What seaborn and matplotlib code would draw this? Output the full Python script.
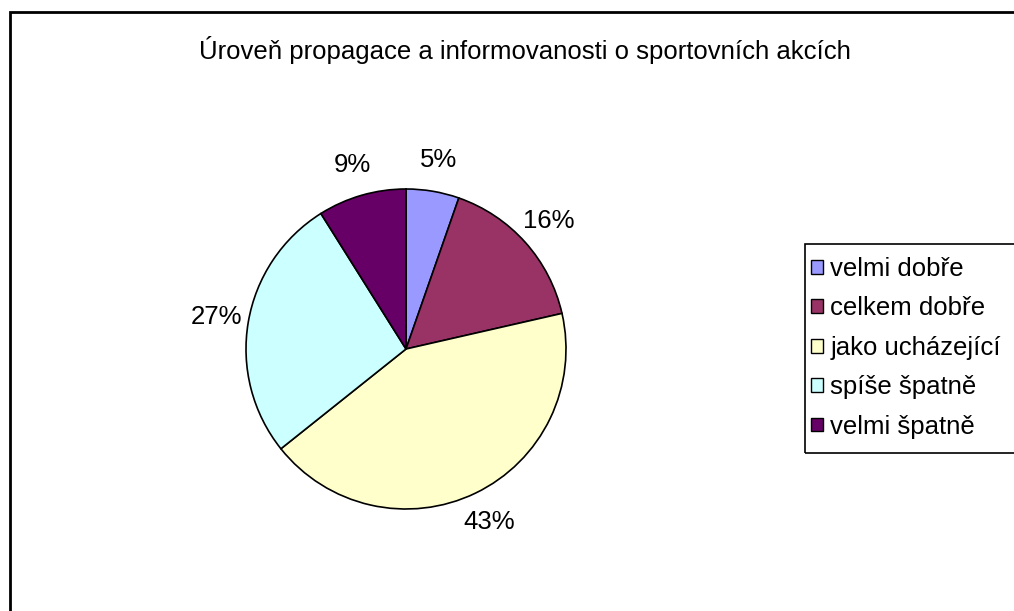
import matplotlib
matplotlib.use("Agg")
import matplotlib.pyplot as plt
from matplotlib.patches import Rectangle, Patch
import seaborn as sns

kategorie = ["velmi dobře", "celkem dobře", "jako ucházející", "spíše špatně", "velmi špatně"]
pocty = [6, 18, 48, 30, 10]
barvy = ["#9999FF", "#993366", "#FFFFCC", "#CCFFFF", "#660066"]
nazev = "Úroveň propagace a informovanosti o sportovních akcích"

W, H = 1014, 611
FS = 18.5


def main():
	sns.set_theme(style="white")
	plt.rcParams["font.family"] = ["Liberation Sans", "DejaVu Sans"]
	plt.rcParams["text.color"] = "black"

	fig = plt.figure(figsize=(W / 100, H / 100), dpi=100)
	fig.patch.set_facecolor("white")

	# vnejsi ramecek grafu
	fig.patches.append(Rectangle((10 / W, -0.05), 1.1, 1 - 12 / H + 0.05,
		transform=fig.transFigure, fill=False, edgecolor="black", linewidth=2))

	fig.text(525 / W, 1 - 50 / H, nazev, ha="center", va="center", fontsize=FS)

	cx, cy, r = 406, 349, 160
	ax = fig.add_axes([(cx - r) / W, (H - cy - r) / H, 2 * r / W, 2 * r / H])
	ax.pie(pocty, colors=barvy, startangle=90, counterclock=False,
		autopct="%1.0f%%", pctdistance=1.2,
		wedgeprops=dict(edgecolor="black", linewidth=1.2),
		textprops=dict(fontsize=FS, color="black"))
	ax.set_xlim(-1, 1)
	ax.set_ylim(-1, 1)
	ax.set_aspect("equal")
	ax.axis("off")

	# ramecek legendy
	fig.patches.append(Rectangle((805 / W, 1 - 453 / H), 0.3, 209 / H,
		transform=fig.transFigure, fill=False, edgecolor="black", linewidth=1.2))

	handles = [Patch(facecolor=c, edgecolor="black", linewidth=1) for c in barvy]
	fig.legend(handles, kategorie, loc="upper left",
		bbox_to_anchor=(811 / W, 1 - 257 / H), frameon=False, fontsize=FS,
		handlelength=0.45, handleheight=0.45, handletextpad=0.3,
		labelspacing=0.6, borderpad=0, borderaxespad=0)

	fig.savefig("out.png", dpi=100)


if __name__ == "__main__":
	main()
